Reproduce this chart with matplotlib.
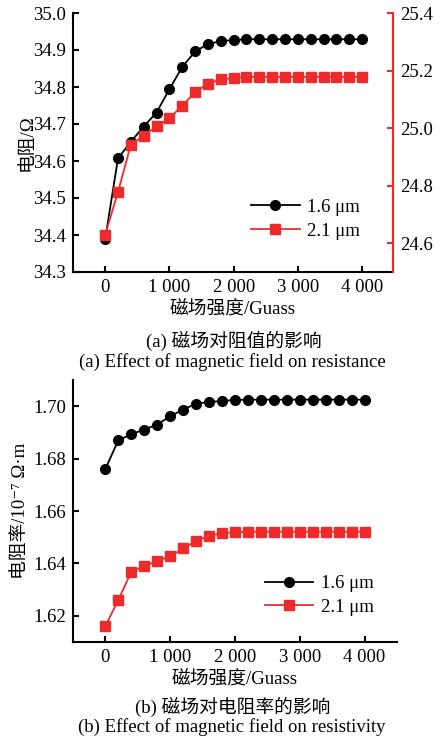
import numpy as np
import matplotlib
matplotlib.use('Agg')
import matplotlib.pyplot as plt

plt.rcParams['font.family'] = ['Liberation Serif', 'Noto Sans CJK SC', 'DejaVu Serif']

# magnetic field (Guass)
field = [0, 200, 400, 600, 800, 1000, 1200, 1400, 1600, 1800, 2000,
         2200, 2400, 2600, 2800, 3000, 3200, 3400, 3600, 3800, 4000]

# resistance (Ohm)
res_16 = [34.388, 34.607, 34.652, 34.693, 34.731, 34.794, 34.854, 34.896, 34.916, 34.924, 34.927,
          34.929, 34.929, 34.929, 34.929, 34.929, 34.929, 34.929, 34.929, 34.929, 34.929]
res_21 = [24.629, 24.778, 24.942, 24.974, 25.006, 25.034, 25.078, 25.124, 25.155, 25.169, 25.174,
          25.178, 25.178, 25.178, 25.178, 25.178, 25.178, 25.178, 25.178, 25.178, 25.178]

# resistivity (1e-7 Ohm m)
rho_16 = [1.6761, 1.6870, 1.6893, 1.6911, 1.6930, 1.6962, 1.6987, 1.7010, 1.7016, 1.7020, 1.7024,
          1.7025, 1.7025, 1.7025, 1.7025, 1.7025, 1.7025, 1.7025, 1.7025, 1.7025, 1.7025]
rho_21 = [1.6161, 1.6261, 1.6368, 1.6390, 1.6409, 1.6427, 1.6457, 1.6486, 1.6506, 1.6515, 1.6519,
          1.6521, 1.6521, 1.6521, 1.6521, 1.6521, 1.6521, 1.6521, 1.6521, 1.6521, 1.6521]

xticks = [0, 1000, 2000, 3000, 4000]
xticklabels = ['0', '1 000', '2 000', '3 000', '4 000']
red = '#ee2b2b'

W, H = 444, 738
fig = plt.figure(figsize=(W / 100, H / 100), dpi=100)

def box(l, t, r, b):
    return [l / W, 1 - b / H, (r - l) / W, (b - t) / H]

fs = 13.5

# ---- (a) resistance ----
ax1 = fig.add_axes(box(73, 13, 393, 272))
ax2 = ax1.twinx()
l1, = ax1.plot(field, res_16, color='black', lw=1.3, marker='o', ms=7, label='1.6 μm')
l2, = ax2.plot(field, res_21, color=red, lw=1.3, marker='s', ms=6.5, label='2.1 μm')
ax1.set_xlim(-500, 4480)
ax1.set_ylim(34.3, 35.0)
ax1.set_yticks(np.arange(34.3, 35.01, 0.1))
ax1.set_yticklabels(['%.1f' % v for v in np.arange(34.3, 35.01, 0.1)])
ax2.set_ylim(24.5, 25.4)
ax2.set_yticks([24.6, 24.8, 25.0, 25.2, 25.4])
ax2.set_yticklabels(['24.6', '24.8', '25.0', '25.2', '25.4'])
ax1.set_xticks(xticks)
ax1.set_xticklabels(xticklabels)
for a in (ax1, ax2):
    a.spines['top'].set_visible(False)
    for s in a.spines.values():
        s.set_linewidth(1.5)
    a.tick_params(direction='in', length=4, width=1.5, labelsize=fs, pad=5)
ax2.spines['left'].set_visible(False)
ax2.spines['bottom'].set_visible(False)
ax2.spines['right'].set_color(red)
ax2.tick_params(axis='y', color=red)
ax1.spines['right'].set_visible(False)
ax1.set_ylabel('电阻/Ω', fontsize=fs, labelpad=-2)
ax1.set_xlabel('磁场强度/Guass', fontsize=fs, labelpad=3)
ax1.legend([l1, l2], ['1.6 μm', '2.1 μm'], loc='lower right', bbox_to_anchor=(0.95, 0.06),
           frameon=False, fontsize=fs, handlelength=2.6, labelspacing=0.35, handletextpad=0.4)
fig.text(234 / W, 1 - 341 / H, '(a) 磁场对阻值的影响', ha='center', va='center', fontsize=fs)
fig.text(232 / W, 1 - 362 / H, '(a) Effect of magnetic field on resistance', ha='center', va='center', fontsize=fs)

# ---- (b) resistivity ----
ax3 = fig.add_axes(box(73, 380, 397, 642))
ax3.plot(field, rho_16, color='black', lw=1.3, marker='o', ms=7, label='1.6 μm')
ax3.plot(field, rho_21, color=red, lw=1.3, marker='s', ms=6.5, label='2.1 μm')
ax3.set_xlim(-500, 4500)
ax3.set_ylim(1.61, 1.71)
ax3.set_yticks([1.62, 1.64, 1.66, 1.68, 1.70])
ax3.set_yticklabels(['1.62', '1.64', '1.66', '1.68', '1.70'])
ax3.set_xticks(xticks)
ax3.set_xticklabels(xticklabels)
ax3.spines['top'].set_visible(False)
ax3.spines['right'].set_visible(False)
for s in ax3.spines.values():
    s.set_linewidth(1.5)
ax3.tick_params(direction='in', length=4, width=1.5, labelsize=fs, pad=5)
ax3.set_ylabel('电阻率/10\u207b\u2077 Ω·m', fontsize=fs, labelpad=3)
ax3.set_xlabel('磁场强度/Guass', fontsize=fs, labelpad=3)
ax3.legend(loc='lower right', bbox_to_anchor=(0.98, 0.035), frameon=False, fontsize=fs,
           handlelength=2.6, labelspacing=0.35, handletextpad=0.4)
fig.text(233 / W, 1 - 707 / H, '(b) 磁场对电阻率的影响', ha='center', va='center', fontsize=fs)
fig.text(232 / W, 1 - 727 / H, '(b) Effect of magnetic field on resistivity', ha='center', va='center', fontsize=fs)

fig.savefig('out.png', dpi=100)
